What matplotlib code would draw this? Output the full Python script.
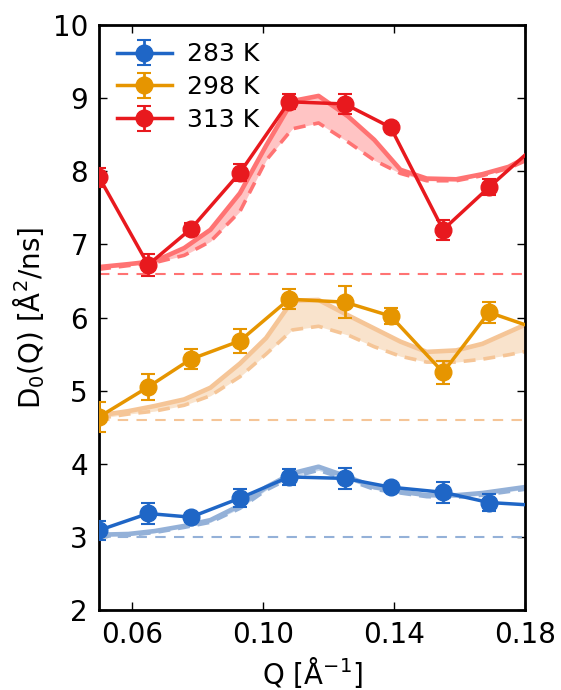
import matplotlib
matplotlib.use("Agg")
from matplotlib import pyplot as plt

# measured points (Q in 1/A, D0 in A^2/ns)
q_data = [0.050, 0.065, 0.078, 0.093, 0.108, 0.125, 0.139, 0.155, 0.169, 0.184]

d_283 = [3.09, 3.32, 3.27, 3.53, 3.82, 3.80, 3.68, 3.61, 3.47, 3.43]
e_283 = [0.13, 0.15, 0.06, 0.12, 0.11, 0.14, 0.05, 0.14, 0.11, 0.10]

d_298 = [4.64, 5.05, 5.43, 5.68, 6.25, 6.21, 6.02, 5.25, 6.07, 5.84]
e_298 = [0.20, 0.18, 0.14, 0.16, 0.14, 0.22, 0.11, 0.16, 0.14, 0.14]

d_313 = [7.92, 6.72, 7.21, 7.98, 8.95, 8.92, 8.60, 7.20, 7.78, 8.38]
e_313 = [0.13, 0.15, 0.08, 0.12, 0.10, 0.14, 0.05, 0.14, 0.11, 0.11]

# model curves (upper solid / lower dashed)
q_model = [0.050, 0.059, 0.067, 0.076, 0.084, 0.093, 0.101, 0.109, 0.117,
           0.126, 0.134, 0.142, 0.150, 0.159, 0.167, 0.175, 0.183]

m_283_hi = [3.03, 3.04, 3.08, 3.15, 3.23, 3.43, 3.68, 3.87, 3.96,
            3.82, 3.68, 3.62, 3.57, 3.57, 3.60, 3.65, 3.70]
m_283_lo = [3.01, 3.02, 3.06, 3.13, 3.20, 3.39, 3.64, 3.82, 3.91,
            3.78, 3.65, 3.60, 3.55, 3.54, 3.57, 3.62, 3.67]

m_298_hi = [4.66, 4.72, 4.79, 4.88, 5.04, 5.37, 5.72, 6.23, 6.24,
            6.03, 5.85, 5.67, 5.53, 5.55, 5.64, 5.80, 5.96]
m_298_lo = [4.62, 4.68, 4.72, 4.80, 4.93, 5.19, 5.50, 5.83, 5.88,
            5.76, 5.60, 5.47, 5.39, 5.39, 5.43, 5.49, 5.56]

m_313_hi = [6.69, 6.73, 6.77, 6.95, 7.20, 7.70, 8.35, 8.96, 9.03,
            8.75, 8.43, 8.02, 7.90, 7.89, 7.96, 8.06, 8.25]
m_313_lo = [6.66, 6.71, 6.75, 6.85, 7.04, 7.45, 8.15, 8.58, 8.66,
            8.40, 8.15, 7.97, 7.87, 7.87, 7.94, 8.04, 8.20]

baselines = [3.0, 4.6, 6.6]
labels = ["283 K", "298 K", "313 K"]

c_data = ["#1f66c6", "#e69500", "#e8191e"]
c_model = ["#94b1d8", "#f5c597", "#ff7373"]
c_fill = ["#c9d8ec", "#f9e3cc", "#ffc4c4"]

plt.rcParams["font.family"] = "DejaVu Sans"
plt.rcParams["font.size"] = 20
plt.rcParams["mathtext.fontset"] = "dejavusans"

fig = plt.figure(figsize=(5.61, 6.90), dpi=100)
ax = fig.add_axes([0.1765, 0.1159, 0.7593, 0.8479])

models = [(m_283_hi, m_283_lo), (m_298_hi, m_298_lo), (m_313_hi, m_313_lo)]
for (hi, lo), cm, cf, base in zip(models, c_model, c_fill, baselines):
    ax.fill_between(q_model, lo, hi, color=cf, lw=0, zorder=1)
    ax.plot(q_model, hi, "-", color=cm, lw=3.3, zorder=2)
    ax.plot(q_model, lo, "--", color=cm, lw=2.6, dashes=(3.3, 2.2), zorder=2)
    ax.axhline(base, color=cm, lw=1.5, ls="--", dashes=(5, 4), zorder=2)

series = [(d_283, e_283), (d_298, e_298), (d_313, e_313)]
for (d, e), c, lab in zip(series, c_data, labels):
    ax.errorbar(q_data, d, yerr=e, fmt="o-", color=c, lw=2.5, ms=12,
                mec=c, elinewidth=2, capsize=5, capthick=1.5, label=lab, zorder=5)

ax.set_xlim(0.05, 0.18)
ax.set_ylim(2, 10)
ax.set_xticks([0.06, 0.10, 0.14, 0.18])
ax.set_xticklabels(["0.06", "0.10", "0.14", "0.18"])
ax.set_yticks(range(2, 11))
ax.tick_params(direction="in", top=True, right=True, length=6, width=1,
               pad=8, labelsize=20)
for s in ax.spines.values():
    s.set_linewidth(2)

ax.set_xlabel(r"Q [$\mathrm{\AA}^{-1}$]", fontsize=20)
ax.set_ylabel(r"D$_0$(Q) [$\mathrm{\AA}^2$/ns]", fontsize=20)

ax.legend(loc="upper left", frameon=False, numpoints=1, fontsize=18,
          handlelength=2.2, handletextpad=0.6, labelspacing=0.35,
          borderaxespad=0.3)

fig.savefig("out.png", dpi=100)
